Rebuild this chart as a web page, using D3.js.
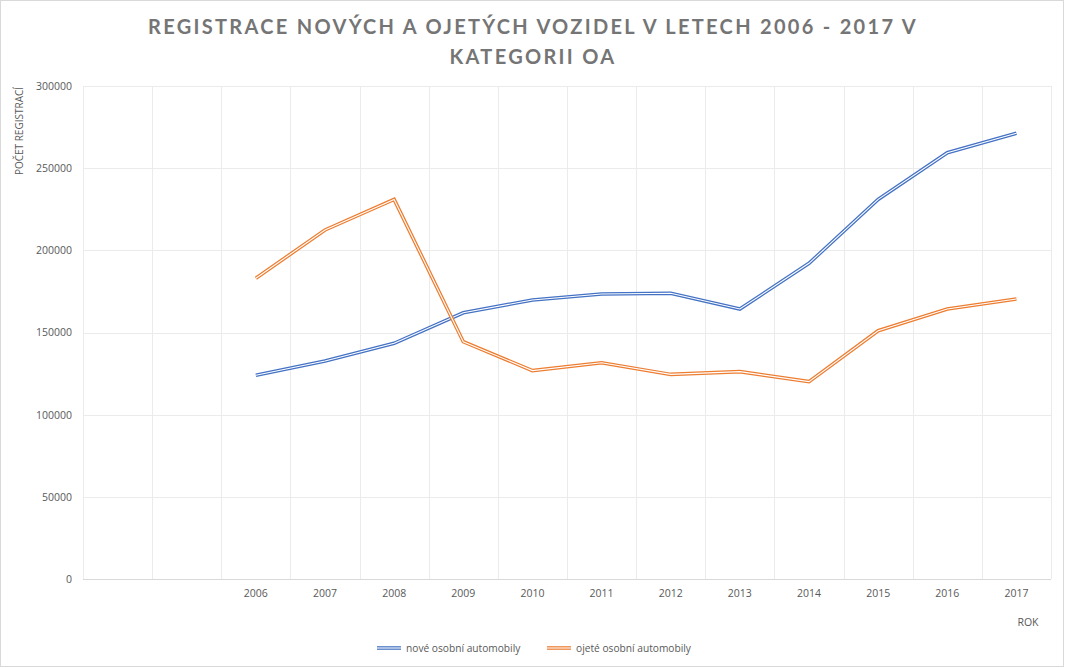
<!DOCTYPE html>
<html><head><meta charset="utf-8">
<script src="https://cdn.jsdelivr.net/npm/d3@7"></script>
<style>
html,body{margin:0;padding:0;background:#fff;}
svg{display:block;font-family:"Open Sans",sans-serif;}
</style></head>
<body>
<svg id="chart" width="1066" height="668"></svg>
<script>
const categories = ["", "", "2006","2007","2008","2009","2010","2011","2012","2013","2014","2015","2016","2017"];
const newCars  = [null, null, 124000,132700,143400,162000,169800,173400,173900,164300,192100,231000,259400,271200];
const usedCars = [null, null, 183000,212400,231000,144400,126800,131600,124500,126200,120100,151100,164300,170400];
const yTicks = [0,50000,100000,150000,200000,250000,300000];
const seriesNames = ["nové osobní automobily","ojeté osobní automobily"];
const colors = ["#4472C4","#ED7D31"];
const titleLines = ["REGISTRACE NOVÝCH A OJETÝCH VOZIDEL V LETECH 2006 - 2017 V","KATEGORII OA"];

const svg = d3.select("#chart");
const W=1066,H=668;
const L=83,R=1051,T=86,B=579;

svg.append("rect").attr("x",0.5).attr("y",0.5).attr("width",W-3).attr("height",H-2)
  .attr("fill","#fff").attr("stroke","#d9d9d9");

const x = d3.scaleBand().domain(categories.map((c,i)=>i)).range([L,R]).padding(0);
const y = d3.scaleLinear().domain([0,300000]).range([B,T]);

// horizontal gridlines
svg.append("g").selectAll("line").data(yTicks.filter(t=>t>0)).join("line")
  .attr("x1",L).attr("x2",R).attr("y1",d=>Math.round(y(d))+0.5).attr("y2",d=>Math.round(y(d))+0.5)
  .attr("stroke","#ebebeb").attr("stroke-width",1);
// vertical gridlines at category boundaries
svg.append("g").selectAll("line").data(d3.range(categories.length+1)).join("line")
  .attr("x1",d=>Math.round(L+x.step()*d)+0.5).attr("x2",d=>Math.round(L+x.step()*d)+0.5)
  .attr("y1",T).attr("y2",B)
  .attr("stroke","#ebebeb").attr("stroke-width",1);

// y axis labels
const yAxis = d3.axisLeft(y).tickValues(yTicks).tickSize(0).tickPadding(11).tickFormat(d=>String(d));
const gy = svg.append("g").attr("transform",`translate(${L},0)`).call(yAxis);
gy.select(".domain").remove();
gy.selectAll("text").attr("fill","#595959").style("font-size","10.5px").style("font-family","Open Sans");

// x axis
const xAxis = d3.axisBottom(x).tickSize(0).tickPadding(10).tickFormat(i=>categories[i]);
const gx = svg.append("g").attr("transform",`translate(0,${Math.round(B)+0.5})`).call(xAxis);
gx.select(".domain").attr("stroke","#d9d9d9").attr("d",`M${L},0H${R}`);
gx.selectAll("text").attr("fill","#595959").style("font-size","10.5px").style("font-family","Open Sans");

// lines (double compound style)
const line = d3.line().defined(d=>d.v!=null).x(d=>x(d.i)+x.bandwidth()/2).y(d=>y(d.v));
[newCars,usedCars].forEach((s,k)=>{
  const data = s.map((v,i)=>({i,v}));
  svg.append("path").datum(data).attr("d",line).attr("fill","none")
    .attr("stroke",colors[k]).attr("stroke-width",3.6).attr("stroke-linejoin","miter");
  svg.append("path").datum(data).attr("d",line).attr("fill","none")
    .attr("stroke","#fff").attr("stroke-width",1.1).attr("stroke-linejoin","miter");
});

// title
const title = svg.append("text").attr("text-anchor","middle").attr("fill","#757575")
  .style("font-family","Lato").style("font-weight","bold").style("font-size","20px").style("letter-spacing","2.3px");
titleLines.forEach((t,i)=>title.append("tspan").attr("x",533).attr("y",34+i*30).text(t));

// axis titles
svg.append("text").attr("transform","translate(23,131) rotate(-90)").attr("text-anchor","middle")
  .attr("fill","#595959").style("font-size","10px").text("POČET REGISTRACÍ");
svg.append("text").attr("x",1028).attr("y",626).attr("text-anchor","middle")
  .attr("fill","#595959").style("font-size","10.5px").text("ROK");

// legend
const legX = [377,547];
seriesNames.forEach((n,k)=>{
  const g = svg.append("g");
  g.append("line").attr("x1",legX[k]).attr("x2",legX[k]+24).attr("y1",648).attr("y2",648)
    .attr("stroke",colors[k]).attr("stroke-width",3.6);
  g.append("line").attr("x1",legX[k]).attr("x2",legX[k]+24).attr("y1",648).attr("y2",648)
    .attr("stroke","#fff").attr("stroke-width",1.1);
  g.append("text").attr("x",legX[k]+29).attr("y",652).attr("fill","#595959")
    .style("font-size","10.2px").text(n);
});
</script>
</body></html>
